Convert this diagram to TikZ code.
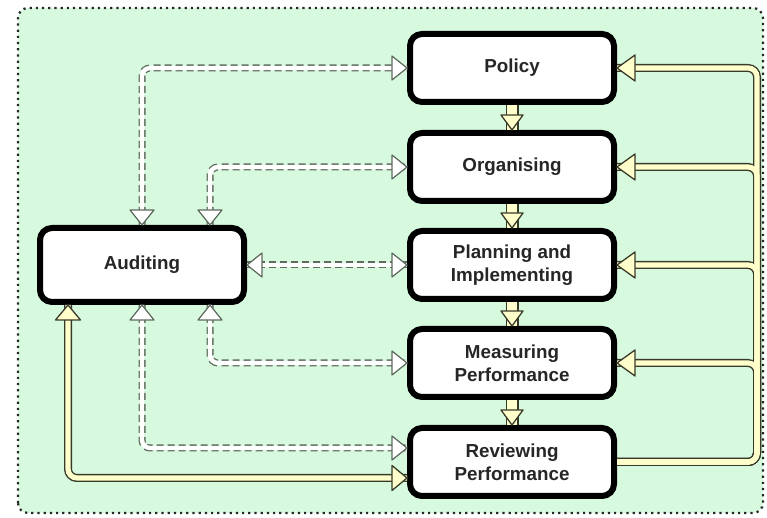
\documentclass[tikz,border=0pt]{standalone}
\usepackage{fontspec}
\setmainfont{Liberation Sans}
\usetikzlibrary{calc}
\definecolor{bgreen}{HTML}{D7FADF}
\definecolor{cream}{HTML}{FFFFCC}
\definecolor{pipedark}{HTML}{3A3A2A}
\definecolor{dashgray}{HTML}{5F6B5F}
\definecolor{txt}{HTML}{262626}
\newcommand{\arrhead}[5]{\draw[#1,shift={(#2)},rotate=#3] (0,0) -- (-#4,#5) -- (-#4,-#5) -- cycle;}
\begin{document}
\begin{tikzpicture}[x=1pt,y=1pt,
  box/.style={draw=black, line width=6pt, fill=white, rounded corners=12pt,
    minimum width=204pt, minimum height=68pt, align=center, text=txt,
    font=\bfseries\fontsize{18.8}{23}\selectfont},
  yout/.style={draw=pipedark, line width=8pt, rounded corners=9pt},
  yin/.style={draw=cream, line width=5.2pt, rounded corners=9pt},
  vout/.style={draw=pipedark, line width=13pt},
  vin/.style={draw=cream, line width=10.4pt},
  dout/.style={draw=dashgray, line width=7pt, dash pattern=on 7pt off 4pt, rounded corners=8pt},
  din/.style={draw=white, line width=4.4pt, rounded corners=8pt},
  yhead/.style={fill=cream, draw=pipedark, line width=1.3pt, line join=round},
  dhead/.style={fill=white, draw=dashgray, line width=1.2pt, line join=round}]
\useasboundingbox (0,0) rectangle (767,518);
% background
\fill[bgreen, rounded corners=10pt] (18,5) rectangle (763,510);
\draw[black!85, line width=2.2pt, dash pattern=on 2.2pt off 4pt, rounded corners=10pt] (18,5) rectangle (763,510);
% nodes
\node[box] (pol) at (512,450) {Policy};
\node[box] (org) at (512,351) {Organising};
\node[box] (pla) at (512,253) {Planning and\\Implementing};
\node[box] (mea) at (512,155) {Measuring\\Performance};
\node[box] (rev) at (512,56) {Reviewing\\Performance};
\node[box, minimum height=74pt] (aud) at (142,253) {Auditing};
% helper coordinates
\coordinate (x68) at (68,0);
\coordinate (x142) at (142,0);
\coordinate (x210) at (210,0);
\coordinate (tr) at (757,0);
\coordinate (revhi) at ($(rev.west)+(0,14)$);
\coordinate (revlo) at ($(rev.west)+(0,-16)$);
\coordinate (a1) at (aud.north -| x142);
\coordinate (a2) at (aud.north -| x210);
\coordinate (a4) at (aud.south -| x210);
\coordinate (a5) at (aud.south -| x142);
\coordinate (a6) at (aud.south -| x68);
% dashed two-way connectors
\draw[dout] (a1) |- (pol.west);
\draw[dout] (a2) |- (org.west);
\draw[dout] (aud.east) -- (pla.west);
\draw[dout] (a4) |- (mea.west);
\draw[dout] (a5) |- (revhi);
\draw[din] (a1) |- (pol.west);
\draw[din] (a2) |- (org.west);
\draw[din] (aud.east) -- (pla.west);
\draw[din] (a4) |- (mea.west);
\draw[din] (a5) |- (revhi);
\arrhead{dhead}{a1}{-90}{15}{12}
\arrhead{dhead}{a2}{-90}{15}{12}
\arrhead{dhead}{a4}{90}{15}{12}
\arrhead{dhead}{a5}{90}{15}{12}
\arrhead{dhead}{aud.east}{180}{15}{12}
\arrhead{dhead}{pol.west}{0}{15}{12}
\arrhead{dhead}{org.west}{0}{15}{12}
\arrhead{dhead}{pla.west}{0}{15}{12}
\arrhead{dhead}{mea.west}{0}{15}{12}
\arrhead{dhead}{revhi}{0}{15}{12}
% yellow two-way connector Auditing - Reviewing
\draw[yout] (a6) |- (revlo);
\draw[yin] (a6) |- (revlo);
\arrhead{yhead}{a6}{90}{15}{12.5}
\arrhead{yhead}{revlo}{0}{15}{12.5}
% feedback pipe on the right
\draw[yout] (rev.east) -| (pol.east -| tr) -- (pol.east);
\draw[yout] (rev.east) -| (org.east -| tr) -- (org.east);
\draw[yout] (rev.east) -| (pla.east -| tr) -- (pla.east);
\draw[yout] (rev.east) -| (mea.east -| tr) -- (mea.east);
\draw[yin] (rev.east) -| (pol.east -| tr) -- (pol.east);
\draw[yin] (rev.east) -| (org.east -| tr) -- (org.east);
\draw[yin] (rev.east) -| (pla.east -| tr) -- (pla.east);
\draw[yin] (rev.east) -| (mea.east -| tr) -- (mea.east);
\arrhead{yhead}{pol.east}{180}{18}{13}
\arrhead{yhead}{org.east}{180}{18}{13}
\arrhead{yhead}{pla.east}{180}{18}{13}
\arrhead{yhead}{mea.east}{180}{18}{13}
% vertical flow arrows
\draw[vout] (pol.south) -- (org.north);
\draw[vout] (org.south) -- (pla.north);
\draw[vout] (pla.south) -- (mea.north);
\draw[vout] (mea.south) -- (rev.north);
\draw[vin] (pol.south) -- (org.north);
\draw[vin] (org.south) -- (pla.north);
\draw[vin] (pla.south) -- (mea.north);
\draw[vin] (mea.south) -- (rev.north);
\arrhead{yhead}{org.north}{-90}{15}{11}
\arrhead{yhead}{pla.north}{-90}{15}{11}
\arrhead{yhead}{mea.north}{-90}{15}{11}
\arrhead{yhead}{rev.north}{-90}{15}{11}
\end{tikzpicture}
\end{document}
